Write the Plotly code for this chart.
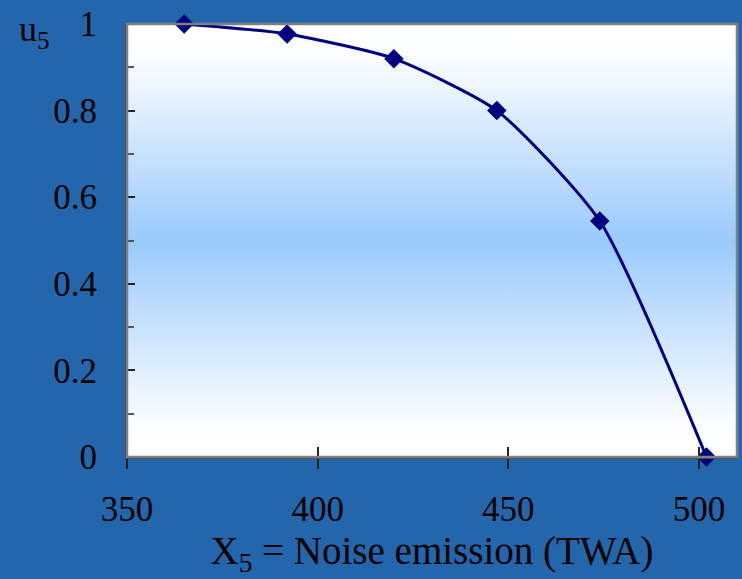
import plotly.graph_objects as go

# Data
x_noise = [365, 392, 420, 447, 474, 502]
u5 = [1.0, 0.977, 0.92, 0.80, 0.545, 0.0]

x_ticks = [350, 400, 450, 500]
y_ticks = [0, 0.2, 0.4, 0.6, 0.8, 1]
y_tick_text = ["0", "0.2", "0.4", "0.6", "0.8", "1"]

X_RANGE = [350, 510]
Y_RANGE = [0, 1]

BG = "#2366AB"
NAVY = "#000080"
FONT = "Liberation Serif"

fig = go.Figure()

# gradient plot-area background
fig.add_trace(go.Scatter(
    x=[X_RANGE[0], X_RANGE[1], X_RANGE[1], X_RANGE[0], X_RANGE[0]],
    y=[Y_RANGE[0], Y_RANGE[0], Y_RANGE[1], Y_RANGE[1], Y_RANGE[0]],
    mode="none", fill="toself",
    fillgradient=dict(type="vertical",
                      colorscale=[[0, "#FFFFFF"], [0.08, "#FBFDFF"],
                                  [0.5, "#99CAFC"],
                                  [0.92, "#FBFDFF"], [1, "#FFFFFF"]]),
    hoverinfo="skip", showlegend=False,
))

fig.add_trace(go.Scatter(
    x=x_noise, y=u5, xaxis="x2",
    mode="lines+markers",
    line=dict(color=NAVY, width=3, shape="spline", smoothing=0.6),
    marker=dict(symbol="diamond", size=15, color=NAVY),
    cliponaxis=False, showlegend=False,
))

fig.update_layout(
    width=742, height=579,
    margin=dict(l=127, r=5, t=20, b=122),
    paper_bgcolor=BG, plot_bgcolor="white",
    font=dict(family=FONT, size=35, color="black"),
    xaxis=dict(range=X_RANGE, tickvals=x_ticks, ticks="outside", ticklen=10,
               tickwidth=1.5, tickcolor="#222222",
               showline=True, linecolor="#404040", linewidth=2,
               showgrid=False, zeroline=False, ticklabelstandoff=10,
               title=dict(text="X<sub>5</sub> = Noise emission (TWA)",
                          standoff=4, font=dict(size=39))),
    xaxis2=dict(range=X_RANGE, overlaying="x", anchor="y", side="bottom",
                tickvals=x_ticks, ticks="inside", ticklen=10, tickwidth=1.5,
                tickcolor="#222222", showticklabels=False,
                showgrid=False, zeroline=False, showline=False),
    yaxis=dict(range=Y_RANGE, tickvals=y_ticks, ticktext=y_tick_text,
               ticks="inside", ticklen=8, tickwidth=1.5, tickcolor="#222222",
               minor=dict(dtick=0.1, ticks="inside", ticklen=7,
                          tickcolor="#555555", tickwidth=1.5),
               showline=True, linecolor="#404040", linewidth=2,
               showgrid=False, zeroline=False, ticklabelstandoff=21),
    shapes=[dict(type="rect", xref="x domain", yref="y domain",
                 x0=0, x1=1, y0=0, y1=1,
                 line=dict(color="#808080", width=2.5), layer="above")],
    annotations=[dict(text="u<sub>5</sub>", xref="paper", yref="paper",
                      x=-0.18, y=1.04, xanchor="left", yanchor="top",
                      showarrow=False, font=dict(size=36))],
)

fig.write_html(
    "out.html",
    config={"displayModeBar": False},
    post_script=("document.body.style.margin='0';"
                 "document.body.style.background='" + BG + "';"),
)
